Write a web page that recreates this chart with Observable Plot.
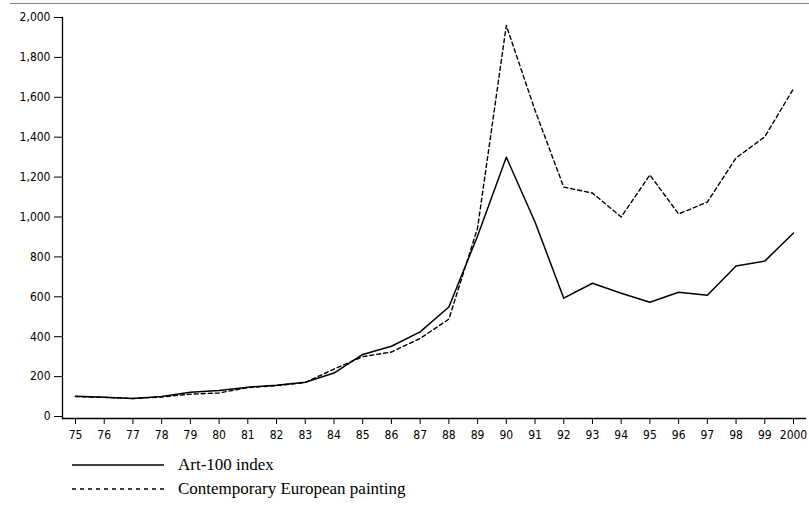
<!DOCTYPE html>
<html>
<head>
<meta charset="utf-8">
<script src="https://cdn.jsdelivr.net/npm/d3@7"></script>
<script src="https://cdn.jsdelivr.net/npm/@observablehq/plot@0.6"></script>
<style>
  html, body { margin: 0; padding: 0; background: #fff; }
  #wrap { position: relative; width: 809px; height: 506px; overflow: hidden; }
  #topline { position: absolute; left: 10px; right: 0; top: 3px; height: 0; border-top: 1.5px solid #888; }
  #legend { position: absolute; left: 72px; top: 453px; font-family: "Liberation Serif", serif; font-size: 17px; color: #000; }
  .row { display: flex; align-items: center; height: 24px; }
  .row svg { margin-right: 14px; }
</style>
</head>
<body>
<div id="wrap">
  <div id="topline"></div>
  <div id="chart"></div>
  <div id="legend"></div>
</div>
<script>
const years = [1975,1976,1977,1978,1979,1980,1981,1982,1983,1984,1985,1986,1987,1988,1989,1990,1991,1992,1993,1994,1995,1996,1997,1998,1999,2000];
const xTickLabels = ["75","76","77","78","79","80","81","82","83","84","85","86","87","88","89","90","91","92","93","94","95","96","97","98","99","2000"];
const art100 = [102,97,90,100,122,130,147,157,172,218,311,352,424,549,905,1300,975,593,668,618,573,623,608,754,779,920];
const contemporary = [100,96,90,98,112,118,145,155,170,238,300,323,391,488,945,1960,1535,1150,1120,1000,1211,1015,1075,1296,1402,1643];
const yTicks = [0,200,400,600,800,1000,1200,1400,1600,1800,2000];
const seriesNames = ["Art-100 index", "Contemporary European painting"];

const data = [];
years.forEach((y, i) => {
  data.push({year: y, value: art100[i], series: seriesNames[0]});
  data.push({year: y, value: contemporary[i], series: seriesNames[1]});
});

const tickFont = '"DejaVu Sans Condensed", "DejaVu Sans", sans-serif';
const xFmt = (d) => xTickLabels[years.indexOf(d)];

const chart = Plot.plot({
  width: 809,
  height: 448,
  marginLeft: 62,
  marginRight: 4,
  marginTop: 17,
  marginBottom: 30,
  style: {fontFamily: tickFont, fontSize: "12px", color: "#000", background: "transparent"},
  x: {domain: [1975, 2000], insetLeft: 13, insetRight: 12, ticks: years, tickFormat: xFmt, label: null},
  y: {domain: [0, 2000], insetBottom: 2, ticks: yTicks, tickFormat: d3.format(","), label: null},
  marks: [
    Plot.axisY({ticks: yTicks, tickFormat: d3.format(","), tickSize: 8, tickPadding: 4, label: null, fontSize: 12}),
    Plot.axisX({ticks: years, tickFormat: xFmt, tickSize: 6, tickPadding: 6, label: null, fontSize: 12}),
    Plot.frame({anchor: "left", stroke: "#000", strokeWidth: 1.3}),
    Plot.frame({anchor: "bottom", stroke: "#000", strokeWidth: 1.3}),
    Plot.line(data.filter(d => d.series === seriesNames[0]), {x: "year", y: "value", stroke: "#000", strokeWidth: 1.5}),
    Plot.line(data.filter(d => d.series === seriesNames[1]), {x: "year", y: "value", stroke: "#000", strokeWidth: 1.4, strokeDasharray: "4,3"})
  ]
});
document.getElementById("chart").appendChild(chart);

const legend = document.getElementById("legend");
seriesNames.forEach((name, i) => {
  const row = document.createElement("div");
  row.className = "row";
  row.innerHTML = `<svg width="92" height="6"><line x1="0" x2="92" y1="3" y2="3" stroke="#000" stroke-width="1.3" ${i === 1 ? 'stroke-dasharray="4,4"' : ''}/></svg><span>${name}</span>`;
  legend.appendChild(row);
});
</script>
</body>
</html>
